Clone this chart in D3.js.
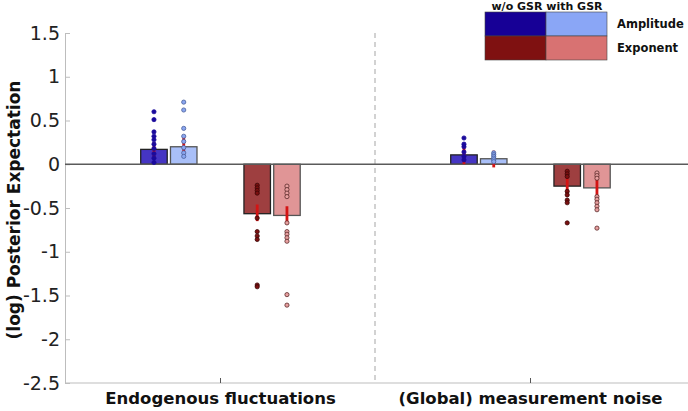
<!DOCTYPE html>
<html>
<head>
<meta charset="utf-8">
<script src="https://cdn.jsdelivr.net/npm/d3@7"></script>
<style>
  html, body { margin: 0; padding: 0; background: #fff; }
  svg { display: block; font-family: "DejaVu Sans", sans-serif; }
</style>
</head>
<body>
<svg id="chart" width="688" height="411"></svg>
<script>
// ---------- data ----------
const categories = ["Endogenous fluctuations", "(Global) measurement noise"];
const seriesNames = ["Amplitude w/o GSR", "Amplitude with GSR", "Exponent w/o GSR", "Exponent with GSR"];
const seriesOffsets = [-0.213, -0.117, 0.120, 0.216];
const barColors = ["#4535c3", "#a9bff8", "#9e3f40", "#e09596"];
const dotFill = ["#1a0a9c", "#8aa6f0", "#7a1010", "#e8a0a0"];
const dotStroke = ["#1a0a9c", "#4a5f9a", "#3a0505", "#5a2a2a"];

// mean posterior expectation per category (rows) and series (cols)
const meanValues = [
  [0.17, 0.20, -0.565, -0.585],
  [0.107, 0.063, -0.25, -0.27]
];
const errLow = [
  [0.07, 0.11, -0.65, -0.67],
  [0.00, -0.036, -0.37, -0.44]
];
const errHigh = [
  [0.25, 0.31, -0.46, -0.48],
  [0.22, 0.155, -0.075, -0.10]
];
// individual subject estimates
const subjectValues = [
  [
    [0.60, 0.51, 0.37, 0.32, 0.28, 0.23, 0.18, 0.12, 0.07, 0.02],
    [0.71, 0.62, 0.41, 0.32, 0.26, 0.19, 0.13, 0.09],
    [-0.24, -0.27, -0.30, -0.33, -0.615, -0.77, -0.82, -0.86, -1.38, -1.40],
    [-0.25, -0.29, -0.33, -0.37, -0.67, -0.77, -0.80, -0.84, -0.88, -1.49, -1.61]
  ],
  [
    [0.30, 0.23, 0.20, 0.14, 0.09, 0.05],
    [0.13, 0.11, 0.09, 0.07, 0.05, 0.03],
    [-0.08, -0.11, -0.14, -0.31, -0.35, -0.41, -0.44, -0.67],
    [-0.10, -0.13, -0.16, -0.37, -0.40, -0.44, -0.48, -0.52, -0.73]
  ]
];
const yTicks = [1.5, 1, 0.5, 0, -0.5, -1, -1.5, -2, -2.5];
const legendHeader = "w/o GSR with GSR";
const legendRows = ["Amplitude", "Exponent"];
const legendColors = [["#170096", "#8aa6f6"], ["#7f1111", "#d87272"]];

// ---------- layout ----------
const W = 688, H = 411;
const plot = { left: 65, right: 685, top: 33, bottom: 383 };
const barWidth = 0.0855;

const svg = d3.select("#chart");
const x = d3.scaleLinear().domain([0.5, 2.5]).range([plot.left, plot.right]);
const y = d3.scaleLinear().domain([-2.5, 1.5]).range([plot.bottom, plot.top]);

// dashed separator
svg.append("line")
  .attr("x1", x(1.5)).attr("x2", x(1.5))
  .attr("y1", y(1.5)).attr("y2", y(-2.5))
  .attr("stroke", "#b5b5b5").attr("stroke-width", 1.2)
  .attr("stroke-dasharray", "5,4");

// y axis
const yAxis = svg.append("g")
  .attr("transform", `translate(${plot.left},0)`)
  .call(d3.axisLeft(y).tickValues(yTicks).tickFormat(d => String(d))
    .tickSizeInner(-5).tickSizeOuter(0).tickPadding(5));
yAxis.select(".domain").attr("stroke", "#bdbdbd");
yAxis.selectAll(".tick line").attr("stroke", "#bdbdbd");
yAxis.selectAll(".tick text").attr("font-size", 19).attr("fill", "#222")
  .attr("font-family", "DejaVu Sans");

// x axis
const xAxis = svg.append("g")
  .attr("transform", `translate(0,${plot.bottom})`)
  .call(d3.axisBottom(x).tickValues([1, 2]).tickFormat((d, i) => categories[i])
    .tickSizeInner(-5).tickSizeOuter(0).tickPadding(9));
xAxis.select(".domain").attr("stroke", "#bdbdbd").attr("d", `M${plot.left},0H${W}`);
xAxis.selectAll(".tick line").attr("stroke", "#555");
xAxis.selectAll(".tick text").attr("font-size", 16.5).attr("font-weight", "bold")
  .attr("fill", "#111").attr("font-family", "DejaVu Sans");

// y label
svg.append("text")
  .attr("transform", `translate(20,${(plot.top + plot.bottom) / 2 + 2}) rotate(-90)`)
  .attr("text-anchor", "middle")
  .attr("font-size", 17).attr("font-weight", "bold").attr("fill", "#111")
  .text("(log) Posterior Expectation");

// bars
const barData = [];
categories.forEach((c, ci) => seriesNames.forEach((s, si) => {
  barData.push({ ci, si, v: meanValues[ci][si], lo: errLow[ci][si], hi: errHigh[ci][si],
    pts: subjectValues[ci][si] });
}));
function ci2pos(ci) { return ci + 1; }
const cx = d => x(ci2pos(d.ci) + seriesOffsets[d.si]);

svg.append("g").selectAll("rect").data(barData).join("rect")
  .attr("x", d => x(ci2pos(d.ci) + seriesOffsets[d.si] - barWidth / 2))
  .attr("width", d => x(barWidth) - x(0))
  .attr("y", d => y(Math.max(0, d.v)))
  .attr("height", d => Math.abs(y(d.v) - y(0)))
  .attr("fill", d => barColors[d.si])
  .attr("stroke", d => d.si % 2 === 0 ? "#222" : "#555")
  .attr("stroke-width", 1.3);

// zero line
svg.append("line")
  .attr("x1", plot.left).attr("x2", W)
  .attr("y1", y(0)).attr("y2", y(0))
  .attr("stroke", "#5a5a5a").attr("stroke-width", 1.6);

// error bars
svg.append("g").selectAll("line").data(barData).join("line")
  .attr("x1", cx).attr("x2", cx)
  .attr("y1", d => y(d.lo)).attr("y2", d => y(d.hi))
  .attr("stroke", "#d41414").attr("stroke-width", 2.8);

// subject points
const pts = [];
barData.forEach(d => d.pts.forEach(v => pts.push({ ci: d.ci, si: d.si, v })));
svg.append("g").selectAll("circle").data(pts).join("circle")
  .attr("cx", cx)
  .attr("cy", d => y(d.v))
  .attr("r", 2.1)
  .attr("fill", d => dotFill[d.si])
  .attr("stroke", d => dotStroke[d.si])
  .attr("stroke-width", 0.8);

// legend
const lg = svg.append("g");
const cellX = [485, 546], cellW = 61, cellY = [12, 36], cellH = 24;
legendColors.forEach((row, ri) => row.forEach((col, cj) => {
  lg.append("rect")
    .attr("x", cellX[cj]).attr("y", cellY[ri])
    .attr("width", cellW).attr("height", cellH)
    .attr("fill", col).attr("stroke", "#444").attr("stroke-width", 0.6);
}));
lg.append("text").attr("x", cellX[1]+1).attr("y", 10)
  .attr("text-anchor", "middle").attr("font-size", 11).attr("font-weight", "bold")
  .attr("fill", "#111").attr("xml:space", "preserve").text(legendHeader);
legendRows.forEach((t, ri) => {
  lg.append("text").attr("x", 617).attr("y", cellY[ri] + cellH / 2 + 4)
    .attr("font-size", 11.5).attr("font-weight", "bold").attr("fill", "#111").text(t);
});
</script>
</body>
</html>
